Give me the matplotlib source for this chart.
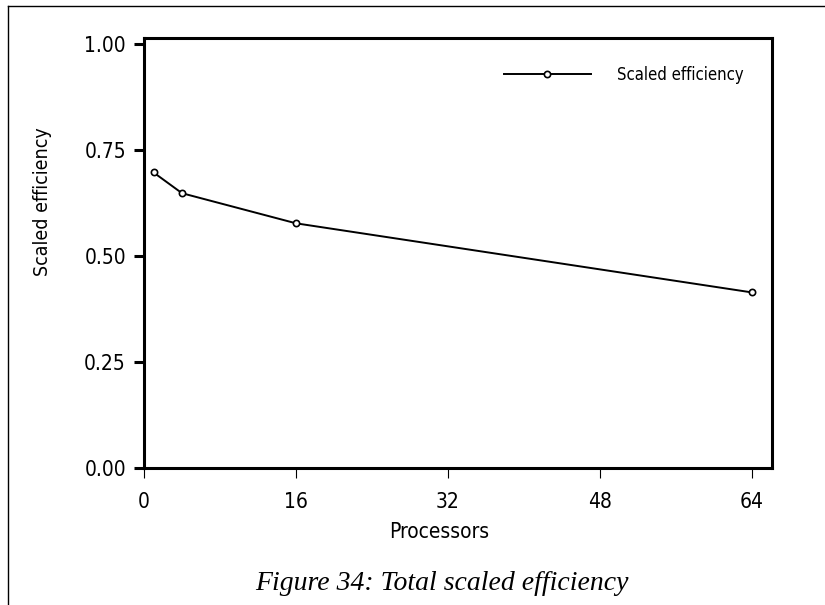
import matplotlib
matplotlib.use('Agg')
import matplotlib.pyplot as plt
from matplotlib.lines import Line2D

# data
processors = [1, 4, 16, 64]
scaled_eff = [0.697, 0.648, 0.577, 0.414]
x_ticks = [0, 16, 32, 48, 64]
y_ticks = [0.0, 0.25, 0.5, 0.75, 1.0]
y_tick_labels = ['0.00', '0.25', '0.50', '0.75', '1.00']

# narrow sans like the original scan
plt.rcParams['font.family'] = ['DejaVu Sans']
plt.rcParams['font.stretch'] = 'condensed'

fig = plt.figure(figsize=(8.25, 6.05), dpi=100)
ax = fig.add_axes([144 / 825, 1 - 468 / 605, (772 - 144) / 825, (468 - 38) / 605])

ax.plot(processors, scaled_eff, color='black', linewidth=1.4, marker='o',
        markersize=4.5, markerfacecolor='white', markeredgecolor='black',
        markeredgewidth=1.2, label='Scaled efficiency')

ax.set_xlim(0, 66.1)
ax.set_ylim(0, 1.014)
ax.set_xticks(x_ticks)
ax.set_xticklabels([str(v) for v in x_ticks])
ax.set_yticks(y_ticks)
ax.set_yticklabels(y_tick_labels)

for side in ['left', 'right', 'top', 'bottom']:
    ax.spines[side].set_linewidth(2.2)

ax.tick_params(axis='y', direction='out', length=7, width=2.2, pad=6, labelsize=15)
ax.tick_params(axis='x', direction='out', length=7, width=0.8, pad=10, labelsize=15)

ax.set_ylabel('Scaled efficiency', fontsize=14)
ax.yaxis.set_label_coords(-0.146, 0.62)
ax.set_xlabel('Processors', fontsize=15)
ax.xaxis.set_label_coords(0.47, -0.125)

ax.legend(loc='center left', bbox_to_anchor=(0.573, 0.914), frameon=False,
          borderpad=0, borderaxespad=0, handlelength=5.2, handletextpad=1.6,
          fontsize=12)

fig.text(442 / 825, 1 - 583 / 605, 'Figure 34: Total scaled efficiency',
         family=['Liberation Serif', 'DejaVu Serif'], style='italic',
         fontsize=20, ha='center', va='center')

# page frame (left and top edges of the scanned box)
fig.add_artist(Line2D([8 / 825, 8 / 825], [0, 1 - 6 / 605], color='black', linewidth=1.0))
fig.add_artist(Line2D([8 / 825, 1], [1 - 6 / 605, 1 - 6 / 605], color='black', linewidth=1.0))

fig.savefig('out.png', dpi=100)
